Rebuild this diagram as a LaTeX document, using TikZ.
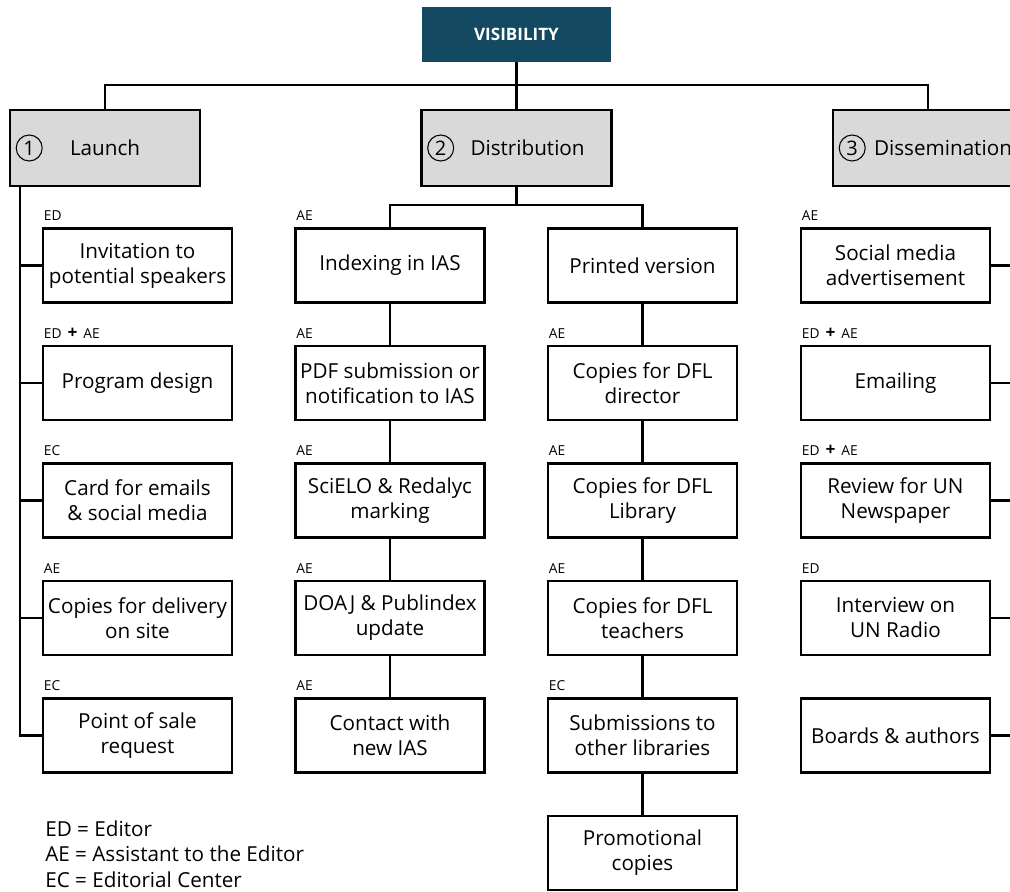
\documentclass[tikz,border=0pt]{standalone}
\usepackage{fontspec}
\setmainfont{Open Sans}
\definecolor{visblue}{HTML}{134A62}
\definecolor{topgray}{HTML}{D9D9D9}
\newcommand{\mainsz}{\fontsize{15.5pt}{18.75pt}\selectfont}
\newcommand{\labsz}{\fontsize{10.3pt}{12pt}\selectfont}
\newcommand{\plusmark}{\hspace{4.5pt}{\bfseries\fontsize{13pt}{13pt}\selectfont +}\hspace{4.5pt}}
\begin{document}
\begin{tikzpicture}[x=0.75pt,y=-0.75pt,
  conn/.style={line width=2pt},
  box/.style={draw, line width=2pt, fill=white, minimum width=141.75pt, minimum height=55.5pt, inner sep=0pt, align=center, font=\mainsz},
  topbox/.style={draw, line width=2pt, fill=topgray, minimum height=57pt, text width=130.5pt, inner xsep=6pt, inner ysep=0pt, align=left, font=\mainsz},
  cnum/.style={circle, draw, line width=0.8pt, minimum size=19.5pt, inner sep=0pt, font=\fontsize{15pt}{15pt}\selectfont},
  visbox/.style={fill=visblue, text=white, minimum width=141.75pt, minimum height=41.25pt, inner sep=0pt, font=\bfseries\fontsize{12.8pt}{14pt}\selectfont},
  lab/.style={font=\labsz, inner sep=0pt, anchor=south west},
  legend/.style={font=\mainsz, inner sep=0pt, anchor=base west}]
\useasboundingbox (0,0) rectangle (1010,892);

% root
\node[visbox] (vis) at (516.5,34.5) {VISIBILITY};
\node[topbox] (launch) at (105,148) {\mbox{\hspace{39pt}Launch}};
\node[topbox] (dist) at (516.5,148) {\mbox{\hspace{30.75pt}Distribution}};
\node[topbox] (diss) at (928,148) {\mbox{\hspace{24.75pt}Dissemination}};
\node[cnum] (c1) at ([xshift=15.4pt]launch.west) {1};
\node[cnum] (c2) at ([xshift=15.4pt]dist.west) {2};
\node[cnum] (c3) at ([xshift=15.4pt]diss.west) {3};

\coordinate (rootj) at (516.5,85);
\draw[conn] (vis.south) -- (rootj);
\draw[conn] (launch.north) |- (rootj) -| (diss.north);
\draw[conn] (rootj) -- (dist.north);

% launch column
\node[box] (l1) at (137.5,265.5) {Invitation to\\potential speakers};
\node[box] (l2) at (137.5,383) {Program design};
\node[box] (l3) at (137.5,500.5) {Card for emails\\\& social media};
\node[box] (l4) at (137.5,618) {Copies for delivery\\on site};
\node[box] (l5) at (137.5,735.5) {Point of sale\\request};
\node[lab] (l1lab) at ([shift={(2,-6)}]l1.north west) {ED};
\node[lab] (l2lab) at ([shift={(2,-6)}]l2.north west) {ED\plusmark AE};
\node[lab] (l3lab) at ([shift={(2,-6)}]l3.north west) {EC};
\node[lab] (l4lab) at ([shift={(2,-6)}]l4.north west) {AE};
\node[lab] (l5lab) at ([shift={(2,-6)}]l5.north west) {EC};
\coordinate (lbus) at (20,186);
\draw[conn] (lbus) |- (l5.west);
\foreach \n in {l1,l2,l3,l4} \draw[conn] (lbus) |- (\n.west);

% distribution columns
\node[box] (i1) at (390,265.5) {Indexing in IAS};
\node[box] (i2) at (390,383) {PDF submission or\\notification to IAS};
\node[box] (i3) at (390,500.5) {SciELO \& Redalyc\\marking};
\node[box] (i4) at (390,618) {DOAJ \& Publindex\\update};
\node[box] (i5) at (390,735.5) {Contact with\\new IAS};
\foreach \n in {i1,i2,i3,i4,i5} \node[lab] (\n lab) at ([shift={(2,-6)}]\n.north west) {AE};

\node[box] (p1) at (642.5,265.5) {Printed version};
\node[box] (p2) at (642.5,383) {Copies for DFL\\director};
\node[box] (p3) at (642.5,500.5) {Copies for DFL\\Library};
\node[box] (p4) at (642.5,618) {Copies for DFL\\teachers};
\node[box] (p5) at (642.5,735.5) {Submissions to\\other libraries};
\node[box] (p6) at (642.5,853) {Promotional\\copies};
\node[lab] (p2lab) at ([shift={(2,-6)}]p2.north west) {AE};
\node[lab] (p3lab) at ([shift={(2,-6)}]p3.north west) {AE};
\node[lab] (p4lab) at ([shift={(2,-6)}]p4.north west) {AE};
\node[lab] (p5lab) at ([shift={(2,-6)}]p5.north west) {EC};

\coordinate (dj) at (516.5,205);
\draw[conn] (dist.south) -- (dj);
\draw[conn] (i1.north) |- (dj) -| (p1.north);
\draw[conn] (i1) -- (i2) -- (i3) -- (i4) -- (i5);
\draw[conn] (p1) -- (p2) -- (p3) -- (p4) -- (p5) -- (p6);

% dissemination column
\node[box] (s1) at (895.5,265.5) {Social media\\advertisement};
\node[box] (s2) at (895.5,383) {Emailing};
\node[box] (s3) at (895.5,500.5) {Review for UN\\Newspaper};
\node[box] (s4) at (895.5,618) {Interview on\\UN Radio};
\node[box] (s5) at (895.5,735.5) {Boards \& authors};
\node[lab] (s1lab) at ([shift={(2,-6)}]s1.north west) {AE};
\node[lab] (s2lab) at ([shift={(2,-6)}]s2.north west) {ED\plusmark AE};
\node[lab] (s3lab) at ([shift={(2,-6)}]s3.north west) {ED\plusmark AE};
\node[lab] (s4lab) at ([shift={(2,-6)}]s4.north west) {ED};
\coordinate (sbus) at (1016,186);
\draw[conn] (sbus) |- (s5.east);
\foreach \n in {s1,s2,s3,s4} \draw[conn] (sbus) |- (\n.east);

% legend
\node[legend] (lg1) at (45,836) {ED = Editor};
\node[legend] (lg2) at (45,861.5) {AE = Assistant to the Editor};
\node[legend] (lg3) at (45,887) {EC = Editorial Center};
\end{tikzpicture}
\end{document}
